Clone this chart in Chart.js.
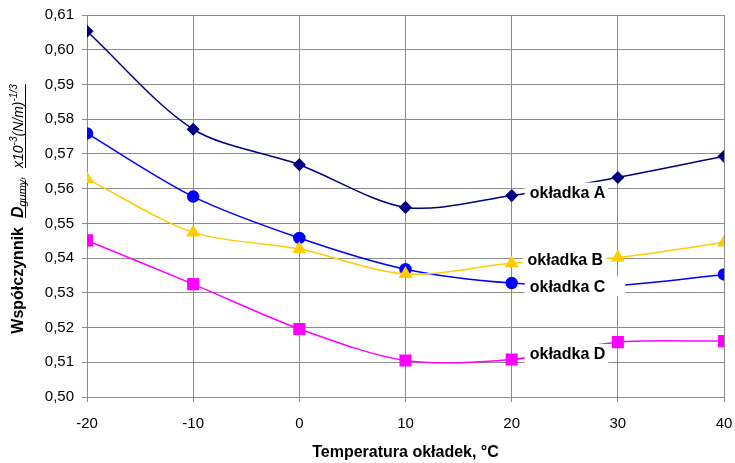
<!DOCTYPE html>
<html>
<head>
<meta charset="utf-8">
<script src="https://cdn.jsdelivr.net/npm/chart.js@4"></script>
<style>
  html, body { margin: 0; padding: 0; background: #fff; }
  #wrap { width: 735px; height: 463px; }
</style>
</head>
<body>
<div id="wrap"><canvas id="c"></canvas></div>
<script>
// temperatura okładek [°C]
const temps = [-20, -10, 0, 10, 20, 30, 40];
// współczynnik D_gumy
const okladkaA = [0.6053, 0.5771, 0.5669, 0.5546, 0.5580, 0.5632, 0.5693];
const okladkaB = [0.5628, 0.5474, 0.5426, 0.5354, 0.5385, 0.5402, 0.5445];
const okladkaC = [0.5759, 0.5577, 0.5458, 0.5368, 0.5328, 0.5322, 0.5353];
const okladkaD = [0.5451, 0.5325, 0.5196, 0.5105, 0.5108, 0.5158, 0.5161];
const seriesNames = ['okładka A', 'okładka B', 'okładka C', 'okładka D'];
// miejsca podpisów (w jednostkach osi)
const labelX = [21.7, 21.5, 21.7, 21.7];
const labelY = [0.5589, 0.5397, 0.5319, 0.5124];

const FONT = '"Liberation Sans", Arial, sans-serif';

function pts(arr) {
    return temps.map((t, i) => ({ x: t, y: arr[i] }));
}

// podpisy serii na białym tle
const seriesLabels = {
    id: 'seriesLabels',
    afterDatasetsDraw(chart) {
        const ctx = chart.ctx;
        const xs = chart.scales.x, ys = chart.scales.y;
        ctx.save();
        ctx.font = 'bold 16px ' + FONT;
        ctx.textBaseline = 'middle';
        seriesNames.forEach((name, i) => {
            const px = xs.getPixelForValue(labelX[i]);
            const py = ys.getPixelForValue(labelY[i]);
            const w = ctx.measureText(name).width;
            const extra = i === 2 ? 20 : 3;
            ctx.fillStyle = '#fff';
            ctx.fillRect(px - 5, py - 10, w + 5 + extra, 20);
            ctx.fillStyle = '#000';
            ctx.fillText(name, px, py + 1);
        });
        ctx.restore();
    }
};

// tytuły osi
const axisTitles = {
    id: 'axisTitles',
    afterDraw(chart) {
        const ctx = chart.ctx;
        const a = chart.chartArea;
        ctx.save();
        ctx.fillStyle = '#000';
        ctx.textBaseline = 'middle';
        ctx.textAlign = 'center';
        ctx.font = 'bold 16px ' + FONT;
        ctx.fillText('Temperatura okładek, °C', (a.left + a.right) / 2, 453);

        // oś Y: tekst z indeksami
        const segs = [
            { t: 'Współczynnik  ', f: 'bold 16px ', dy: 0 },
            { t: 'D', f: 'italic bold 16px ', dy: 0, u: true },
            { t: 'gumy', f: 'italic 11px ', dy: 3, u: true },
            { t: ',  ', f: 'italic 14px ', dy: 0 },
            { t: 'x10', f: 'italic 14px ', dy: 0, u: true },
            { t: '-3', f: 'italic 10px ', dy: -6, u: true },
            { t: '(N/m)', f: 'italic 14px ', dy: 0, u: true },
            { t: '-1/3', f: 'italic 10px ', dy: -6, u: true }
        ];
        ctx.textAlign = 'left';
        ctx.textBaseline = 'alphabetic';
        let total = 0;
        segs.forEach(s => {
            ctx.font = s.f + FONT;
            s.w = ctx.measureText(s.t).width;
            total += s.w;
        });
        ctx.translate(17, (a.top + a.bottom) / 2 + 3);
        ctx.rotate(-Math.PI / 2);
        let x = -total / 2;
        const base = 6;
        ctx.strokeStyle = '#000';
        ctx.lineWidth = 1;
        segs.forEach(s => {
            ctx.font = s.f + FONT;
            ctx.fillText(s.t, x, base + s.dy);
            if (s.u) {
                ctx.beginPath();
                ctx.moveTo(x, base + 2.5);
                ctx.lineTo(x + s.w, base + 2.5);
                ctx.stroke();
            }
            x += s.w;
        });
        ctx.restore();
    }
};

const ctx = document.getElementById('c').getContext('2d');
const chart = new Chart(ctx, {
    type: 'line',
    data: {
        datasets: [{
            label: seriesNames[0],
            data: pts(okladkaA),
            borderColor: '#000080',
            backgroundColor: '#000080',
            pointStyle: 'rectRot',
            pointRadius: 5.5,
            borderWidth: 1.5
        }, {
            label: seriesNames[1],
            data: pts(okladkaB),
            borderColor: '#FFCC00',
            backgroundColor: '#FFCC00',
            pointStyle: 'triangle',
            pointRadius: 6.5,
            borderWidth: 1.5
        }, {
            label: seriesNames[2],
            data: pts(okladkaC),
            borderColor: '#0000FF',
            backgroundColor: '#0000FF',
            pointStyle: 'circle',
            pointRadius: 5.5,
            borderWidth: 1.5
        }, {
            label: seriesNames[3],
            data: pts(okladkaD),
            borderColor: '#FF00FF',
            backgroundColor: '#FF00FF',
            pointStyle: 'rect',
            pointRadius: 7.5,
            borderWidth: 1.5
        }]
    },
    options: {
        responsive: true,
        maintainAspectRatio: false,
        animation: false,
        layout: { padding: { top: 15, right: 11, left: 0, bottom: 0 } },
        elements: {
            line: { tension: 0.3, fill: false },
            point: { borderWidth: 1 }
        },
        plugins: {
            legend: { display: false },
            tooltip: { enabled: false }
        },
        scales: {
            x: {
                type: 'linear',
                min: -20,
                max: 40,
                ticks: {
                    stepSize: 10,
                    color: '#000',
                    font: { family: FONT, size: 15 },
                    padding: 13,
                    maxRotation: 0
                },
                grid: { color: '#8c8c8c', tickLength: 5 },
                border: { color: '#8c8c8c' },
                afterFit: s => { s.height = 66; s.paddingLeft = 0; s.paddingRight = 0; }
            },
            y: {
                min: 0.5,
                max: 0.61,
                ticks: {
                    stepSize: 0.01,
                    color: '#000',
                    font: { family: FONT, size: 15 },
                    padding: 8,
                    callback: v => v.toFixed(2).replace('.', ',')
                },
                grid: { color: '#8c8c8c', tickLength: 5 },
                border: { color: '#8c8c8c' },
                afterFit: s => { s.width = 87; s.paddingTop = 0; s.paddingBottom = 0; }
            }
        }
    },
    plugins: [seriesLabels, axisTitles]
});
</script>
</body>
</html>
